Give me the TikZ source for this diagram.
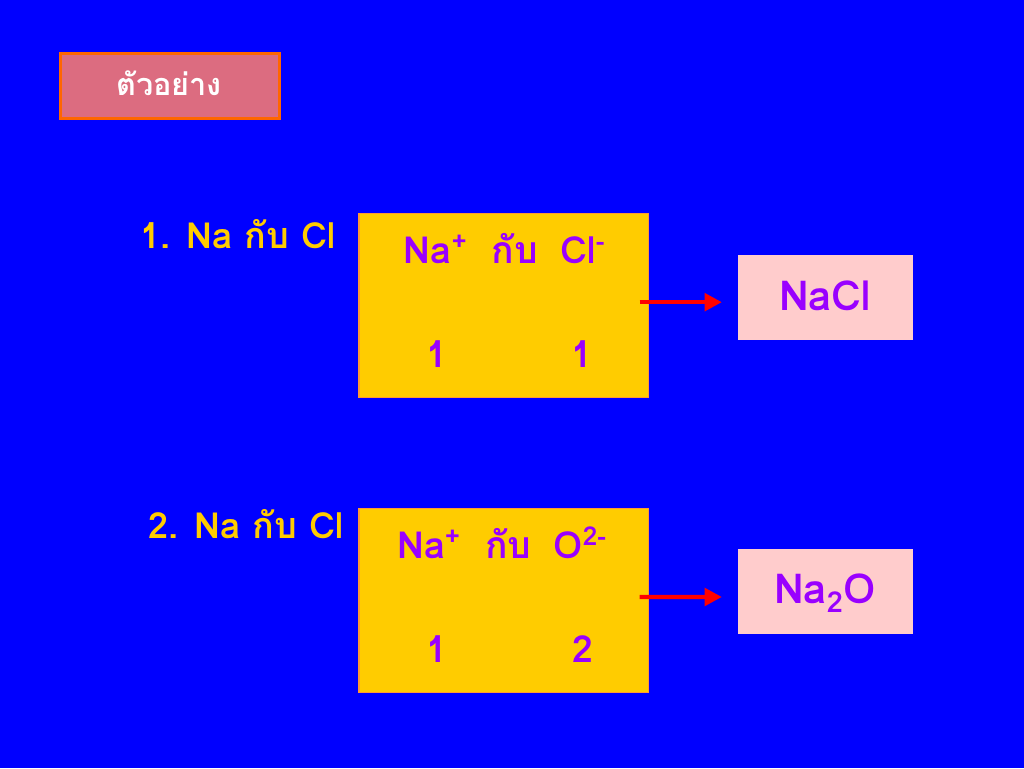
\documentclass[tikz,border=0pt]{standalone}
\usepackage{fontspec}
\newfontfamily\thaifont[Script=Thai]{Loma}
\usepackage{tikz}
\usetikzlibrary{arrows.meta,positioning}
\definecolor{slideblue}{RGB}{0,0,255}
\definecolor{boxyellow}{RGB}{255,204,0}
\definecolor{boxorange}{RGB}{255,153,51}
\definecolor{ionpurple}{RGB}{153,0,255}
\definecolor{resultpink}{RGB}{255,204,204}
\definecolor{titlerose}{RGB}{220,108,128}
\definecolor{titleedge}{RGB}{255,102,0}
\definecolor{arrowred}{RGB}{255,0,0}

\begin{document}
\begin{tikzpicture}[x=0.75pt, y=-0.75pt, font=\thaifont\bfseries,
  titlebox/.style={draw=titleedge, line width=2.2pt, fill=titlerose, minimum width=164pt, minimum height=49pt},
  ionbox/.style={draw=boxorange, line width=1pt, fill=boxyellow, minimum width=217pt, minimum height=138pt},
  resultbox/.style={fill=resultpink, minimum width=131pt, minimum height=64pt},
  steplabel/.style={text=boxyellow, font=\thaifont\bfseries\fontsize{27}{32}\selectfont, inner sep=0pt},
  iontext/.style={text=ionpurple, font=\thaifont\bfseries\fontsize{28}{33}\selectfont, inner sep=0pt},
  redarrow/.style={draw=arrowred, line width=3.3pt, -{Triangle[length=13pt,width=13pt]}}]
% background
\fill[slideblue] (0,0) rectangle (1024,768);
% title
\node[titlebox] (title) at (170,86) {};
\node[text=white, font=\thaifont\bfseries\fontsize{23}{27}\selectfont, anchor=base, inner sep=0pt] (titletext) at (169,95) {ตัวอย่าง};
% first pair
\node[steplabel, anchor=base west] (label1) at (140,248) {1. Na กับ Cl};
\node[ionbox] (ion1) at (503.5,305.5) {};
\node[iontext, anchor=base] (pair1) at (504.5,263) {Na\textsuperscript{+}\hspace{0.65em}กับ\hspace{0.6em}Cl\textsuperscript{-}};
\node[iontext, anchor=base] (num1a) at (437,367) {1};
\node[iontext, anchor=base] (num1b) at (582,367) {1};
\node[resultbox] (res1) at (825.5,297.5) {};
\node[iontext, font=\thaifont\bfseries\fontsize{31}{36}\selectfont, anchor=base] (salt1) at (825,310) {NaCl};
\draw[redarrow] ([xshift=-7pt,yshift=2.5pt]ion1.east) -- ([xshift=-12pt,yshift=-3.5pt]res1.west);
% second pair
\node[steplabel, anchor=base west] (label2) at (148,538) {2. Na กับ Cl};
\node[ionbox] (ion2) at (503.5,600.5) {};
\node[iontext, anchor=base] (pair2) at (502,558) {Na\textsuperscript{+}\hspace{0.65em}กับ\hspace{0.6em}O\textsuperscript{2-}};
\node[iontext, anchor=base] (num2a) at (437,662) {1};
\node[iontext, anchor=base] (num2b) at (583,662) {2};
\node[resultbox] (res2) at (825.5,591.5) {};
\node[iontext, font=\thaifont\bfseries\fontsize{31}{36}\selectfont, anchor=base] (salt2) at (825,603) {Na\textsubscript{2}O};
\draw[redarrow] ([xshift=-7pt,yshift=2.6pt]ion2.east) -- ([xshift=-12pt,yshift=-4.1pt]res2.west);
\end{tikzpicture}
\end{document}
